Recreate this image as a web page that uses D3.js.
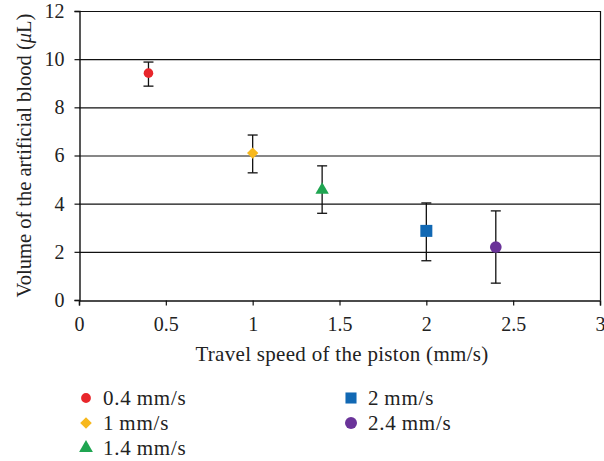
<!DOCTYPE html>
<html>
<head>
<meta charset="utf-8">
<script src="https://cdn.jsdelivr.net/npm/d3@7"></script>
<style>
  body { margin: 0; background: #fff; }
  svg text { font-family: "Liberation Serif", "Times New Roman", "DejaVu Serif", serif; fill: #222; }
</style>
</head>
<body>
<div id="container"></div>
<script>
/* CONSTANTS AND GLOBALS */
const width = 604,
  height = 461,
  margin = { top: 11, bottom: 161, left: 79, right: 4 };

/* DATA */
const speeds = [0.4, 1, 1.4, 2, 2.4];
const volumes = [9.42, 6.1, 4.57, 2.87, 2.2];
const errHigh = [9.88, 6.85, 5.57, 4.03, 3.7];
const errLow = [8.88, 5.28, 3.6, 1.63, 0.7];
const labels = ["0.4\u2009mm/s", "1\u2009mm/s", "1.4\u2009mm/s", "2\u2009mm/s", "2.4\u2009mm/s"];
const xTicks = [0, 0.5, 1, 1.5, 2, 2.5, 3];
const yTicks = [0, 2, 4, 6, 8, 10, 12];

// marker styles, one per series
const colors = ["#e8262b", "#f7b81d", "#1fa551", "#1168b3", "#6a3399"];
const shapes = ["circle", "diamond", "triangle", "square", "circle"];
const areas = [72, 64, 78, 144, 107];

const data = speeds.map((s, i) => ({
  speed: s, volume: volumes[i], hi: errHigh[i], lo: errLow[i],
  label: labels[i], color: colors[i], shape: shapes[i], area: areas[i]
}));

// marker path by shape name
function marker(d, k) {
  const type = d.shape === "circle" ? d3.symbolCircle
    : d.shape === "triangle" ? d3.symbolTriangle : d3.symbolSquare;
  return d3.symbol().type(type).size(d.area * k)();
}
function markerRot(d) { return d.shape === "diamond" ? " rotate(45)" : ""; }

// SCALES
const xScale = d3.scaleLinear().domain([0, 3]).range([margin.left, width - margin.right]);
const yScale = d3.scaleLinear().domain([0, 12]).range([height - margin.bottom, margin.top]);

const svg = d3.select("#container").append("svg")
  .attr("width", width).attr("height", height);

// GRIDLINES
svg.append("g")
  .selectAll("line").data(yTicks.filter(d => d > 0)).join("line")
  .attr("x1", margin.left).attr("x2", width - margin.right)
  .attr("y1", d => yScale(d) + 0.5).attr("y2", d => yScale(d) + 0.5)
  .attr("stroke", "#111").attr("stroke-width", 1.2);

// right border
svg.append("line")
  .attr("x1", width - margin.right + 0.5).attr("x2", width - margin.right + 0.5)
  .attr("y1", yScale(12)).attr("y2", yScale(0))
  .attr("stroke", "#111").attr("stroke-width", 1.2);

// AXES
const xAxis = d3.axisBottom(xScale).tickValues(xTicks).tickFormat(d3.format("")).tickSizeOuter(0).tickSize(5).tickPadding(11);
const yAxis = d3.axisLeft(yScale).tickValues(yTicks).tickSizeOuter(0).tickSize(5).tickPadding(10);

const gx = svg.append("g")
  .attr("transform", `translate(0,${yScale(0) + 0.5})`)
  .call(xAxis);
const gy = svg.append("g")
  .attr("transform", `translate(${margin.left + 0.5},0)`)
  .call(yAxis);

[gx, gy].forEach(g => {
  g.attr("font-family", null).attr("font-size", null);
  g.select(".domain").attr("stroke", "#111").attr("stroke-width", 1.4);
  g.selectAll(".tick line").attr("stroke", "#111").attr("stroke-width", 1.2);
  g.selectAll(".tick text").style("font-size", "20px").attr("fill", "#222");
});

// AXIS TITLES
svg.append("text")
  .attr("x", 342)
  .attr("y", 361)
  .attr("text-anchor", "middle")
  .style("font-size", "21px")
  .style("letter-spacing", "0.3px")
  .text("Travel speed of the piston (mm/s)");

const yt = svg.append("text")
  .attr("transform", `translate(31,${(yScale(0) + yScale(12)) / 2}) rotate(-90)`)
  .attr("text-anchor", "middle")
  .style("font-size", "20.5px");
yt.append("tspan").text("Volume of the artificial blood (");
yt.append("tspan").attr("font-style", "italic").text("\u03bc");
yt.append("tspan").text("L)");

// ERROR BARS
const eb = svg.append("g").selectAll("g").data(data).join("g")
  .attr("stroke", "#111").attr("stroke-width", 1.3);
eb.append("line")
  .attr("x1", d => xScale(d.speed)).attr("x2", d => xScale(d.speed))
  .attr("y1", d => yScale(d.hi)).attr("y2", d => yScale(d.lo));
eb.append("line")
  .attr("x1", d => xScale(d.speed) - 5).attr("x2", d => xScale(d.speed) + 5)
  .attr("y1", d => yScale(d.hi)).attr("y2", d => yScale(d.hi));
eb.append("line")
  .attr("x1", d => xScale(d.speed) - 5).attr("x2", d => xScale(d.speed) + 5)
  .attr("y1", d => yScale(d.lo)).attr("y2", d => yScale(d.lo));

// POINTS
svg.append("g").selectAll("path").data(data).join("path")
  .attr("transform", d => `translate(${xScale(d.speed)},${yScale(d.volume)})${markerRot(d)}`)
  .attr("d", d => marker(d, 1))
  .attr("fill", d => d.color);

// LEGEND (two columns: three rows, then two)
const legendX = [86, 351], legendY0 = 398, legendRow = 25;
const lg = svg.append("g").selectAll("g").data(data).join("g")
  .attr("transform", (d, i) => {
    const col = i < 3 ? 0 : 1, row = i < 3 ? i : i - 3;
    return `translate(${legendX[col]},${legendY0 + row * legendRow})`;
  });
lg.append("path")
  .attr("transform", d => markerRot(d).trim())
  .attr("d", d => marker(d, d.shape === "square" ? 0.85 : 1.05))
  .attr("fill", d => d.color);
lg.append("text")
  .attr("x", 17).attr("y", 7)
  .style("font-size", "21px")
  .style("letter-spacing", "0.8px")
  .text(d => d.label);
</script>
</body>
</html>
